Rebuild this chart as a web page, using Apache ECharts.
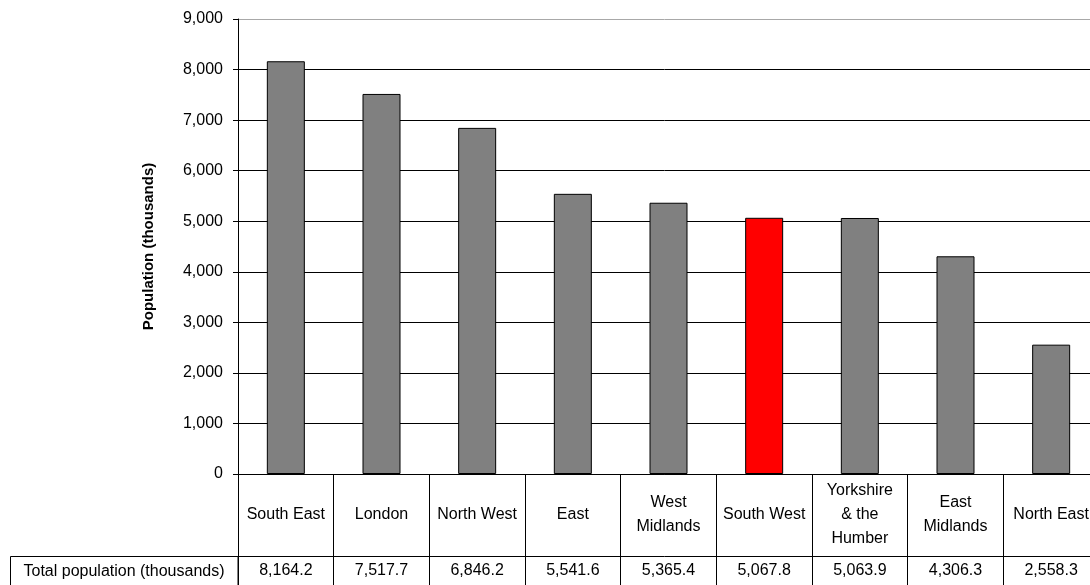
<!DOCTYPE html>
<html>
<head>
<meta charset="utf-8">
<script src="https://cdn.jsdelivr.net/npm/echarts@6/dist/echarts.min.js"></script>
<style>
  html, body { margin: 0; padding: 0; background: #fff; }
  #main { width: 1090px; height: 585px; }
</style>
</head>
<body>
<div id="main"></div>
<script>
var regions = ["South East", "London", "North West", "East", "West\nMidlands", "South West", "Yorkshire\n& the\nHumber", "East\nMidlands", "North East"];
var population = [8164.2, 7517.7, 6846.2, 5541.6, 5365.4, 5067.8, 5063.9, 4306.3, 2558.3];
var highlighted = "South West";
var rowTitle = "Total population (thousands)";
var yTitle = "Population (thousands)";

var font = "Liberation Sans, Arial, sans-serif";

var chartDom = document.getElementById("main");
var myChart = echarts.init(chartDom);

// value row of the data table
var valueLabels = population.map(function (v) {
  return v.toLocaleString("en-US", { minimumFractionDigits: 1, maximumFractionDigits: 1 });
});

var barData = population.map(function (v, i) {
  var red = regions[i] === highlighted;
  return {
    value: v,
    itemStyle: { color: red ? "#ff0000" : "#808080" }
  };
});

// last gridline (top, 9000) is lighter like the plot border
var gridColors = ["#000", "#000", "#000", "#000", "#000", "#000", "#000", "#000", "#000", "#a8a8a8"];

var option = {
  animation: false,
  backgroundColor: "#fff",
  textStyle: { fontFamily: font },
  grid: { left: 238, top: 19, width: 861, height: 455, outerBoundsMode: "none" },
  xAxis: [
    {
      type: "category",
      data: regions,
      axisLine: { lineStyle: { color: "#000", width: 1 } },
      axisTick: { show: true, alignWithLabel: false, interval: 0, length: 130, lineStyle: { color: "#000" } },
      axisLabel: {
        interval: 0,
        color: "#000",
        fontFamily: font,
        fontSize: 16,
        lineHeight: 24,
        margin: 41,
        verticalAlign: "middle",
        align: "center"
      }
    },
    {
      type: "category",
      data: valueLabels,
      position: "bottom",
      offset: 82,
      axisLine: { show: true, lineStyle: { color: "#000", width: 1 } },
      axisTick: { show: false },
      axisLabel: {
        interval: 0,
        color: "#000",
        fontFamily: font,
        fontSize: 16,
        margin: 15,
        verticalAlign: "middle"
      }
    }
  ],
  yAxis: {
    type: "value",
    min: 0,
    max: 9000,
    interval: 1000,
    name: yTitle,
    nameLocation: "middle",
    nameGap: 82,
    nameTextStyle: { fontFamily: font, fontSize: 15, fontWeight: "bold", color: "#000" },
    axisLine: { show: true, lineStyle: { color: "#000", width: 1 } },
    axisTick: { show: true, length: 5, lineStyle: { color: "#000" } },
    axisLabel: {
      color: "#000",
      fontFamily: font,
      fontSize: 16,
      margin: 15,
      formatter: function (v) { return v.toLocaleString("en-US"); }
    },
    splitLine: { show: true, lineStyle: { color: gridColors, width: 1 } }
  },
  graphic: [
    {
      type: "rect",
      shape: { x: 10.5, y: 556.5, width: 227.5, height: 40 },
      style: { fill: "none", stroke: "#000", lineWidth: 1 }
    },
    {
      type: "text",
      x: 124,
      y: 572,
      style: {
        text: rowTitle,
        fill: "#000",
        font: "16px " + font,
        align: "center",
        verticalAlign: "middle"
      }
    }
  ],
  series: [
    {
      type: "bar",
      xAxisIndex: 0,
      barWidth: 38,
      data: barData,
      itemStyle: { borderColor: "#000", borderWidth: 1 }
    }
  ]
};

option && myChart.setOption(option);
</script>
</body>
</html>
